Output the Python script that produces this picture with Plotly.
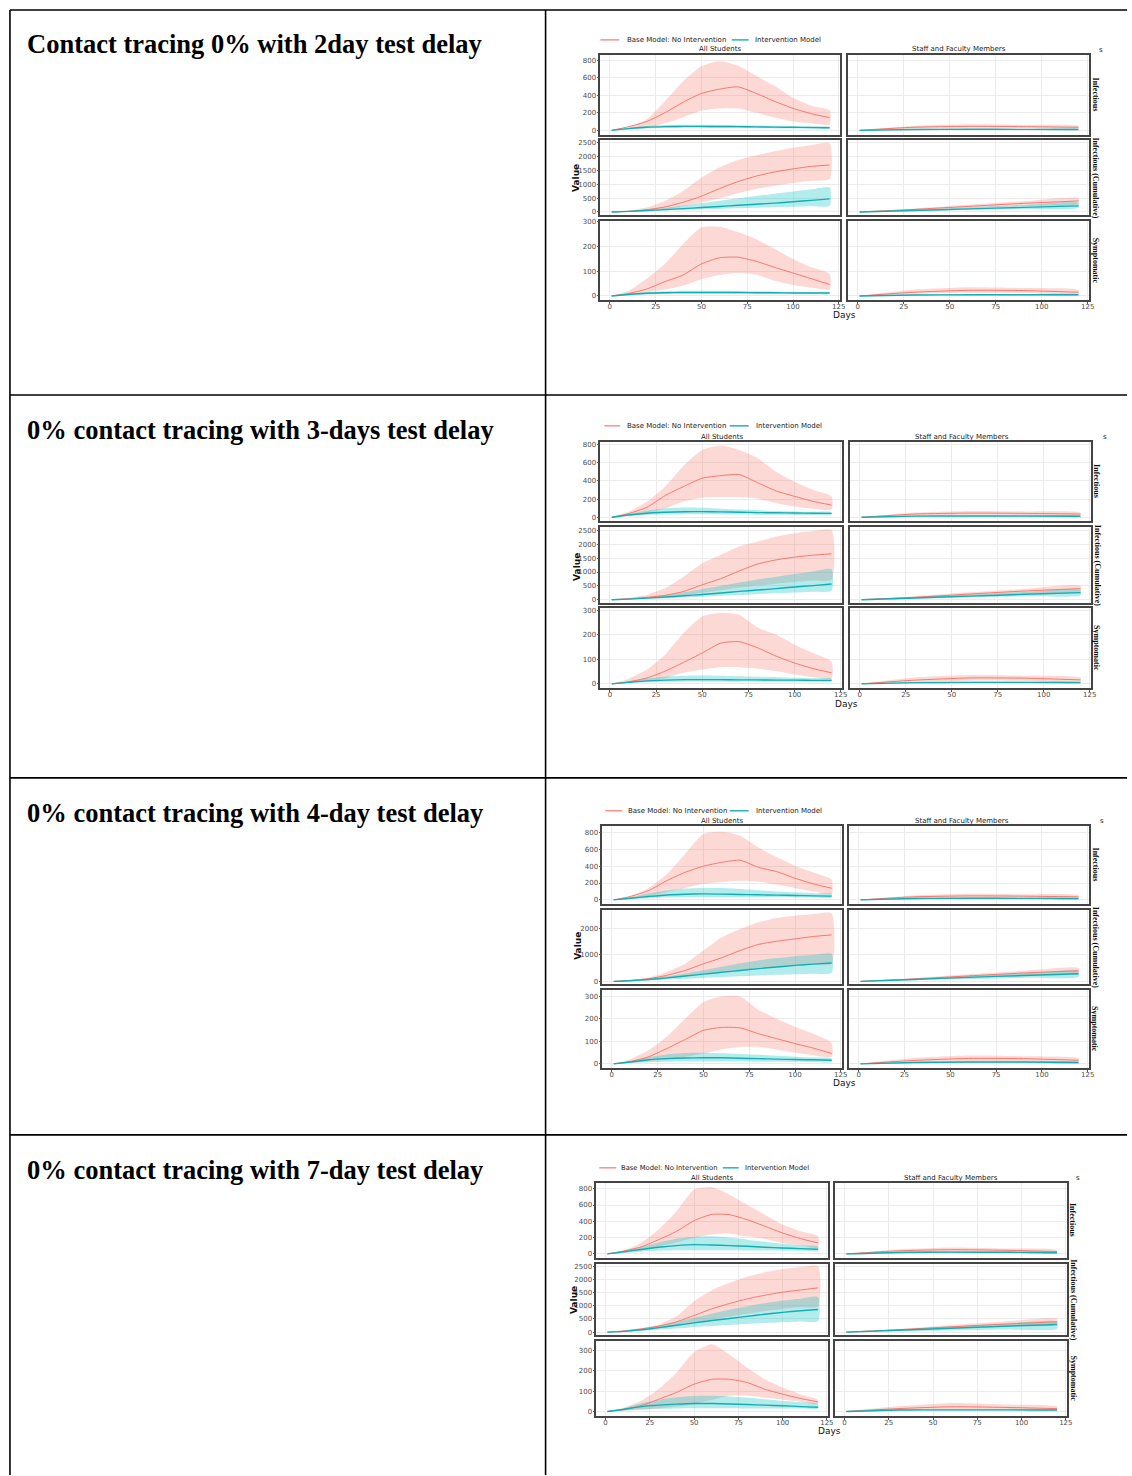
import plotly.graph_objects as go

W, H = 1132, 1476

# ---------------- data ----------------
DAYS = [1, 10, 20, 30, 40, 50, 60, 70, 80, 90, 100, 110, 120]
STAFF_DAYS = [1, 30, 60, 90, 120]
X_TICKS = [0, 25, 50, 75, 100, 125]

SCENARIO_LABELS = [
    "Contact tracing 0% with 2day test delay",
    "0% contact tracing with 3-days test delay",
    "0% contact tracing with 4-day test delay",
    "0% contact tracing with 7-day test delay",
]
SCENARIOS = ["T2", "T3", "T4", "T7"]
GROUPS = ["STU", "STF"]
GROUP_LABELS = ["All Students", "Staff and Faculty Members"]
METRICS = ["INF", "CUM", "SYM"]
METRIC_LABELS = ["Infectious", "Infectious (Cumulative)", "Symptomatic"]
MODELS = ["BASE", "INT"]
MODEL_LABELS = ["Base Model: No Intervention", "Intervention Model"]

Y_TICKS_INF = [0, 200, 400, 600, 800]
Y_TICKS_CUM = [0, 500, 1000, 1500, 2000, 2500]
Y_TICKS_CUM_ALT = [0, 1000, 2000]
Y_TICKS_SYM = [0, 100, 200, 300]

# ---- 2-day test delay: students ----
T2_STU_INF_BASE_MID = [0, 40, 100, 200, 320, 420, 470, 495, 420, 330, 250, 190, 145]
T2_STU_INF_BASE_HI = [0, 30, 125, 330, 560, 730, 790, 735, 620, 505, 370, 280, 225]
T2_STU_INF_BASE_LO = [0, 10, 30, 80, 150, 225, 250, 250, 200, 145, 100, 80, 65]
T2_STU_INF_INT_MID = [0, 20, 35, 42, 45, 45, 44, 42, 40, 37, 35, 33, 30]
T2_STU_INF_INT_HI = [0, 28, 50, 60, 64, 64, 62, 58, 54, 50, 46, 42, 40]
T2_STU_INF_INT_LO = [0, 12, 22, 26, 28, 28, 27, 26, 24, 22, 21, 20, 19]
T2_STU_CUM_BASE_MID = [0, 20, 80, 180, 350, 570, 850, 1100, 1300, 1450, 1560, 1650, 1700]
T2_STU_CUM_BASE_HI = [0, 40, 160, 400, 760, 1250, 1620, 1880, 2050, 2200, 2330, 2420, 2480]
T2_STU_CUM_BASE_LO = [0, 10, 40, 100, 200, 340, 500, 680, 830, 950, 1050, 1130, 1190]
T2_STU_CUM_INT_MID = [0, 20, 50, 85, 120, 160, 200, 240, 280, 320, 370, 420, 475]
T2_STU_CUM_INT_HI = [0, 30, 80, 150, 230, 320, 410, 500, 580, 660, 740, 820, 890]
T2_STU_CUM_INT_LO = [0, 10, 30, 50, 70, 90, 110, 130, 150, 170, 190, 210, 225]
T2_STU_SYM_BASE_MID = [0, 10, 28, 58, 85, 130, 155, 157, 140, 116, 93, 70, 47]
T2_STU_SYM_BASE_HI = [0, 20, 70, 130, 210, 278, 280, 258, 230, 190, 150, 116, 89]
T2_STU_SYM_BASE_LO = [0, 5, 15, 26, 42, 68, 85, 93, 86, 62, 45, 34, 26]
T2_STU_SYM_INT_MID = [0, 6, 11, 13, 14, 14, 14, 14, 13, 13, 12, 12, 12]
T2_STU_SYM_INT_HI = [0, 9, 16, 19, 21, 21, 21, 20, 19, 18, 17, 16, 16]
T2_STU_SYM_INT_LO = [0, 3, 6, 8, 9, 9, 9, 9, 9, 8, 8, 8, 8]
# ---- 2-day test delay: staff ----
T2_STF_INF_BASE_MID = [0, 35, 45, 42, 35]
T2_STF_INF_BASE_HI = [0, 50, 68, 62, 50]
T2_STF_INF_BASE_LO = [0, 20, 28, 26, 22]
T2_STF_INF_INT_MID = [0, 10, 12, 11, 10]
T2_STF_INF_INT_HI = [0, 15, 17, 16, 15]
T2_STF_INF_INT_LO = [0, 6, 8, 7, 6]
T2_STF_CUM_BASE_MID = [0, 90, 200, 310, 400]
T2_STF_CUM_BASE_HI = [0, 120, 260, 390, 500]
T2_STF_CUM_BASE_LO = [0, 60, 140, 220, 300]
T2_STF_CUM_INT_MID = [0, 50, 110, 165, 220]
T2_STF_CUM_INT_HI = [0, 75, 165, 250, 330]
T2_STF_CUM_INT_LO = [0, 30, 70, 110, 150]
T2_STF_SYM_BASE_MID = [0, 15, 23, 22, 15]
T2_STF_SYM_BASE_HI = [0, 25, 35, 32, 24]
T2_STF_SYM_BASE_LO = [0, 8, 13, 12, 8]
T2_STF_SYM_INT_MID = [0, 4, 5, 5, 5]
T2_STF_SYM_INT_HI = [0, 6, 7, 7, 7]
T2_STF_SYM_INT_LO = [0, 2, 3, 3, 3]

# ---- 3-day test delay: students ----
T3_STU_INF_BASE_MID = [0, 40, 110, 240, 340, 430, 458, 470, 380, 290, 230, 175, 135]
T3_STU_INF_BASE_HI = [0, 60, 170, 340, 570, 740, 790, 740, 650, 500, 390, 300, 230]
T3_STU_INF_BASE_LO = [0, 15, 45, 100, 175, 215, 222, 222, 205, 155, 120, 95, 85]
T3_STU_INF_INT_MID = [0, 25, 45, 55, 62, 63, 60, 56, 52, 50, 47, 45, 43]
T3_STU_INF_INT_HI = [0, 35, 75, 100, 108, 105, 95, 85, 78, 70, 65, 60, 58]
T3_STU_INF_INT_LO = [0, 15, 25, 30, 32, 33, 32, 30, 28, 27, 26, 25, 25]
T3_STU_CUM_BASE_MID = [0, 35, 85, 160, 300, 540, 760, 1040, 1290, 1440, 1540, 1610, 1660]
T3_STU_CUM_BASE_HI = [0, 60, 180, 420, 840, 1320, 1620, 1920, 2100, 2280, 2400, 2480, 2520]
T3_STU_CUM_BASE_LO = [0, 10, 40, 90, 160, 250, 340, 430, 510, 580, 640, 690, 720]
T3_STU_CUM_INT_MID = [0, 20, 55, 95, 140, 190, 240, 300, 350, 400, 460, 510, 565]
T3_STU_CUM_INT_HI = [0, 30, 90, 170, 270, 380, 500, 620, 730, 830, 930, 1020, 1100]
T3_STU_CUM_INT_LO = [0, 10, 30, 50, 80, 110, 140, 170, 200, 230, 260, 290, 325]
T3_STU_SYM_BASE_MID = [0, 8, 24, 52, 88, 126, 166, 172, 147, 113, 85, 62, 45]
T3_STU_SYM_BASE_HI = [0, 20, 58, 120, 208, 275, 290, 282, 230, 200, 160, 126, 90]
T3_STU_SYM_BASE_LO = [0, 4, 11, 24, 45, 58, 68, 68, 62, 52, 38, 27, 22]
T3_STU_SYM_INT_MID = [0, 6, 12, 15, 17, 17, 17, 16, 16, 15, 15, 14, 14]
T3_STU_SYM_INT_HI = [0, 10, 22, 30, 33, 34, 33, 31, 29, 27, 25, 23, 22]
T3_STU_SYM_INT_LO = [0, 3, 6, 8, 9, 9, 9, 9, 9, 8, 8, 8, 8]
# ---- 3-day test delay: staff ----
T3_STF_INF_BASE_MID = [0, 36, 46, 43, 36]
T3_STF_INF_BASE_HI = [0, 52, 70, 64, 52]
T3_STF_INF_BASE_LO = [0, 20, 28, 26, 22]
T3_STF_INF_INT_MID = [0, 13, 15, 14, 12]
T3_STF_INF_INT_HI = [0, 19, 22, 21, 18]
T3_STF_INF_INT_LO = [0, 7, 9, 8, 7]
T3_STF_CUM_BASE_MID = [0, 90, 205, 315, 400]
T3_STF_CUM_BASE_HI = [0, 120, 265, 395, 505]
T3_STF_CUM_BASE_LO = [0, 60, 140, 225, 300]
T3_STF_CUM_INT_MID = [0, 60, 130, 195, 255]
T3_STF_CUM_INT_HI = [0, 85, 185, 280, 360]
T3_STF_CUM_INT_LO = [0, 35, 80, 120, 160]
T3_STF_SYM_BASE_MID = [0, 15, 24, 23, 16]
T3_STF_SYM_BASE_HI = [0, 26, 36, 33, 25]
T3_STF_SYM_BASE_LO = [0, 8, 13, 12, 8]
T3_STF_SYM_INT_MID = [0, 5, 6, 6, 5]
T3_STF_SYM_INT_HI = [0, 7, 9, 9, 8]
T3_STF_SYM_INT_LO = [0, 2, 3, 3, 3]

# ---- 4-day test delay: students ----
T4_STU_INF_BASE_MID = [0, 40, 110, 228, 327, 400, 445, 470, 386, 335, 256, 190, 138]
T4_STU_INF_BASE_HI = [0, 35, 140, 305, 545, 780, 810, 760, 620, 505, 405, 325, 240]
T4_STU_INF_BASE_LO = [0, 12, 43, 90, 140, 190, 213, 228, 216, 181, 138, 102, 71]
T4_STU_INF_INT_MID = [0, 20, 40, 58, 67, 71, 68, 64, 60, 56, 52, 48, 45]
T4_STU_INF_INT_HI = [0, 30, 75, 110, 135, 142, 140, 130, 115, 100, 90, 80, 75]
T4_STU_INF_INT_LO = [0, 10, 20, 27, 31, 33, 33, 32, 31, 30, 29, 28, 27]
T4_STU_CUM_BASE_MID = [0, 37, 100, 225, 410, 660, 890, 1160, 1390, 1510, 1600, 1690, 1750]
T4_STU_CUM_BASE_HI = [0, 40, 140, 350, 660, 1160, 1660, 1975, 2225, 2390, 2475, 2530, 2560]
T4_STU_CUM_BASE_LO = [0, 15, 50, 110, 190, 280, 360, 440, 510, 570, 610, 645, 665]
T4_STU_CUM_INT_MID = [0, 25, 70, 130, 200, 270, 340, 410, 480, 540, 600, 650, 690]
T4_STU_CUM_INT_HI = [0, 35, 100, 190, 300, 420, 550, 680, 790, 880, 950, 1000, 1040]
T4_STU_CUM_INT_LO = [0, 12, 35, 60, 95, 130, 160, 190, 220, 245, 270, 290, 310]
T4_STU_SYM_BASE_MID = [0, 10, 31, 68, 108, 149, 162, 160, 134, 112, 90, 70, 46]
T4_STU_SYM_BASE_HI = [0, 20, 60, 120, 200, 275, 300, 300, 240, 200, 165, 134, 93]
T4_STU_SYM_BASE_LO = [0, 4, 12, 19, 31, 46, 64, 75, 75, 64, 50, 38, 31]
T4_STU_SYM_INT_MID = [0, 8, 18, 23, 26, 27, 27, 25, 23, 21, 19, 18, 16]
T4_STU_SYM_INT_HI = [0, 12, 30, 42, 48, 49, 47, 44, 40, 36, 32, 28, 25]
T4_STU_SYM_INT_LO = [0, 4, 7, 9, 10, 10, 10, 10, 9, 9, 9, 8, 8]
# ---- 4-day test delay: staff ----
T4_STF_INF_BASE_MID = [0, 36, 47, 44, 36]
T4_STF_INF_BASE_HI = [0, 52, 72, 66, 54]
T4_STF_INF_BASE_LO = [0, 20, 28, 26, 22]
T4_STF_INF_INT_MID = [0, 16, 19, 18, 15]
T4_STF_INF_INT_HI = [0, 24, 28, 26, 22]
T4_STF_INF_INT_LO = [0, 8, 10, 9, 8]
T4_STF_CUM_BASE_MID = [0, 90, 205, 315, 400]
T4_STF_CUM_BASE_HI = [0, 120, 265, 395, 505]
T4_STF_CUM_BASE_LO = [0, 60, 140, 225, 300]
T4_STF_CUM_INT_MID = [0, 70, 150, 220, 285]
T4_STF_CUM_INT_HI = [0, 95, 205, 305, 390]
T4_STF_CUM_INT_LO = [0, 40, 85, 130, 170]
T4_STF_SYM_BASE_MID = [0, 15, 24, 23, 16]
T4_STF_SYM_BASE_HI = [0, 26, 37, 34, 25]
T4_STF_SYM_BASE_LO = [0, 8, 13, 12, 8]
T4_STF_SYM_INT_MID = [0, 6, 8, 8, 6]
T4_STF_SYM_INT_HI = [0, 9, 11, 11, 9]
T4_STF_SYM_INT_LO = [0, 3, 4, 4, 3]

# ---- 7-day test delay: students ----
T7_STU_INF_BASE_MID = [0, 35, 86, 175, 277, 408, 485, 481, 420, 339, 257, 188, 135]
T7_STU_INF_BASE_HI = [0, 40, 135, 300, 520, 790, 820, 726, 604, 481, 360, 277, 216]
T7_STU_INF_BASE_LO = [0, 12, 45, 86, 143, 196, 237, 249, 216, 184, 135, 102, 73]
T7_STU_INF_INT_MID = [0, 25, 55, 82, 102, 114, 110, 102, 94, 82, 73, 65, 57]
T7_STU_INF_INT_HI = [0, 35, 85, 140, 185, 210, 216, 200, 175, 150, 125, 105, 90]
T7_STU_INF_INT_LO = [0, 12, 28, 38, 44, 46, 46, 45, 43, 41, 40, 38, 37]
T7_STU_CUM_BASE_MID = [0, 45, 126, 227, 390, 630, 885, 1086, 1263, 1400, 1515, 1600, 1680]
T7_STU_CUM_BASE_HI = [0, 50, 130, 290, 600, 1175, 1590, 1870, 2100, 2270, 2400, 2460, 2500]
T7_STU_CUM_BASE_LO = [0, 20, 60, 130, 230, 350, 470, 590, 700, 800, 880, 940, 985]
T7_STU_CUM_INT_MID = [0, 30, 90, 170, 260, 350, 440, 520, 600, 680, 750, 810, 860]
T7_STU_CUM_INT_HI = [0, 40, 120, 240, 390, 550, 700, 850, 980, 1100, 1200, 1270, 1330]
T7_STU_CUM_INT_LO = [0, 15, 50, 95, 140, 190, 230, 270, 310, 345, 375, 400, 420]
T7_STU_SYM_BASE_MID = [0, 10, 28, 60, 93, 134, 158, 158, 142, 109, 85, 64, 47]
T7_STU_SYM_BASE_HI = [0, 18, 52, 110, 190, 290, 330, 280, 215, 158, 117, 85, 57]
T7_STU_SYM_BASE_LO = [0, 3, 8, 15, 24, 36, 57, 77, 77, 68, 57, 47, 36]
T7_STU_SYM_INT_MID = [0, 10, 24, 31, 36, 39, 39, 37, 34, 31, 28, 24, 21]
T7_STU_SYM_INT_HI = [0, 15, 40, 58, 70, 76, 77, 74, 68, 60, 52, 45, 38]
T7_STU_SYM_INT_LO = [0, 5, 10, 13, 15, 16, 16, 16, 15, 15, 14, 14, 13]
# ---- 7-day test delay: staff ----
T7_STF_INF_BASE_MID = [0, 38, 52, 45, 30]
T7_STF_INF_BASE_HI = [0, 55, 80, 68, 48]
T7_STF_INF_BASE_LO = [0, 20, 28, 25, 18]
T7_STF_INF_INT_MID = [0, 18, 22, 20, 15]
T7_STF_INF_INT_HI = [0, 28, 34, 30, 24]
T7_STF_INF_INT_LO = [0, 9, 11, 10, 8]
T7_STF_CUM_BASE_MID = [0, 90, 200, 305, 390]
T7_STF_CUM_BASE_HI = [0, 120, 265, 400, 510]
T7_STF_CUM_BASE_LO = [0, 60, 140, 220, 290]
T7_STF_CUM_INT_MID = [0, 70, 150, 225, 290]
T7_STF_CUM_INT_HI = [0, 95, 210, 315, 400]
T7_STF_CUM_INT_LO = [0, 35, 65, 100, 130]
T7_STF_SYM_BASE_MID = [0, 14, 23, 20, 14]
T7_STF_SYM_BASE_HI = [0, 25, 41, 34, 24]
T7_STF_SYM_BASE_LO = [0, 7, 11, 10, 7]
T7_STF_SYM_INT_MID = [0, 7, 8, 8, 7]
T7_STF_SYM_INT_HI = [0, 10, 12, 12, 10]
T7_STF_SYM_INT_LO = [0, 3, 4, 4, 3]

# ---------------- layout geometry (pixels) ----------------
ROW_GEOM = [
    dict(xl=(603, 844), xr=(852, 1094), ys=[(52, 132), (137, 213), (219, 298)],
         leg_y=37, leg=(603, 622, 628, 735, 752, 756), title_y=46, titles_x=(723, 963),
         days=(848, 313), value=(578, 175), strip_x=1100, s=(1106, 47), label_y=41,
         yr=[(-49, 860), (-126, 2620), (-17, 302)], cumticks=Y_TICKS_CUM),
    dict(xl=(603, 846), xr=(854, 1096), ys=[(440, 519), (525, 602), (607, 687)],
         leg_y=424, leg=(607, 623, 628, 733, 752, 757), title_y=435, titles_x=(725, 966),
         days=(850, 703), value=(580, 565), strip_x=1102, s=(1110, 435), label_y=428,
         yr=[(-36, 830), (-133, 2644), (-17.6, 308)], cumticks=Y_TICKS_CUM),
    dict(xl=(605, 846), xr=(853, 1094), ys=[(825, 903), (909, 984), (990, 1068)],
         leg_y=810, leg=(608, 625, 629, 733, 752, 757), title_y=820, titles_x=(725, 966),
         days=(848, 1083), value=(581, 945), strip_x=1100, s=(1107, 820), label_y=812,
         yr=[(-43.6, 879), (-113, 2706), (-19, 327)], cumticks=Y_TICKS_CUM_ALT),
    dict(xl=(599, 832), xr=(839, 1072), ys=[(1183, 1258), (1264, 1336), (1342, 1417)],
         leg_y=1168, leg=(602, 619, 622, 726, 742, 746), title_y=1178, titles_x=(715, 955),
         days=(833, 1432), value=(577, 1300), strip_x=1078, s=(1083, 1178), label_y=1170,
         yr=[(-45, 873), (-123, 2602), (-23, 344)], cumticks=Y_TICKS_CUM),
]
TABLE_H_LINES = [7, 393, 777, 1135]
TABLE_V_LINES = [10, 548]
X_RANGE = (-5.2, 125.8)

RED = "#F8766D"
RED_FILL = "rgba(248,118,109,0.28)"
CYAN = "#14AEB2"
CYAN_FILL = "rgba(0,191,196,0.30)"
SANS = "DejaVu Sans"
SERIF = "Liberation Serif"
SMALL = 7


def px(x):
    return x / W


def py(y):
    return 1 - y / H


fig = go.Figure()
annotations = []
shapes = []
layout_axes = {}

for r, sc in enumerate(SCENARIOS):
    g_ = ROW_GEOM[r]
    for m, met in enumerate(METRICS):
        for gi, grp in enumerate(GROUPS):
            idx = r * 6 + m * 2 + gi + 1
            xs = "x" if idx == 1 else f"x{idx}"
            ys_ = "y" if idx == 1 else f"y{idx}"
            xr = g_["xl"] if gi == 0 else g_["xr"]
            yt, yb = g_["ys"][m]
            days = DAYS if grp == "STU" else STAFF_DAYS
            # ribbons
            for mdl, fill in (("BASE", RED_FILL), ("INT", CYAN_FILL)):
                lo = globals()[f"{sc}_{grp}_{met}_{mdl}_LO"]
                hi = globals()[f"{sc}_{grp}_{met}_{mdl}_HI"]
                fig.add_trace(go.Scatter(
                    x=days + days[::-1], y=hi + lo[::-1], fill="toself",
                    fillcolor=fill, line=dict(width=0, shape="spline", smoothing=0.6),
                    mode="lines", hoverinfo="skip", xaxis=xs, yaxis=ys_,
                    showlegend=False))
            for mdl, col, wd in (("BASE", RED, 1.0), ("INT", CYAN, 1.4)):
                mid = globals()[f"{sc}_{grp}_{met}_{mdl}_MID"]
                fig.add_trace(go.Scatter(
                    x=days, y=mid, mode="lines",
                    line=dict(color=col, width=wd, shape="spline", smoothing=0.6),
                    xaxis=xs, yaxis=ys_, showlegend=False,
                    name=MODEL_LABELS[MODELS.index(mdl)]))
            yticks = [Y_TICKS_INF, g_["cumticks"], Y_TICKS_SYM][m]
            xa = dict(domain=[px(xr[0]), px(xr[1])], range=list(X_RANGE),
                      anchor=ys_, tickvals=X_TICKS, showticklabels=(m == 2),
                      ticks="outside" if m == 2 else "", ticklen=2, tickcolor="#555",
                      ticklabelstandoff=-3,
                      showgrid=True, gridcolor="#EBEBEB", gridwidth=0.8, zeroline=False,
                      showline=True, mirror=True, linecolor="#444", linewidth=1.6,
                      tickfont=dict(family=SANS, size=SMALL, color="#4D4D4D"))
            ya = dict(domain=[py(yb), py(yt)], range=list(g_["yr"][m]),
                      anchor=xs, tickvals=yticks, showticklabels=(gi == 0),
                      ticks="outside" if gi == 0 else "", ticklen=2, tickcolor="#555",
                      ticklabelstandoff=-1,
                      showgrid=True, gridcolor="#EBEBEB", gridwidth=0.8, zeroline=False,
                      showline=True, mirror=True, linecolor="#444", linewidth=1.6,
                      tickfont=dict(family=SANS, size=SMALL, color="#4D4D4D"))
            layout_axes["xaxis" if idx == 1 else f"xaxis{idx}"] = xa
            layout_axes["yaxis" if idx == 1 else f"yaxis{idx}"] = ya
            if gi == 1:
                annotations.append(dict(
                    x=px(g_["strip_x"]), y=py((yt + yb) / 2), xref="paper", yref="paper",
                    text=f"<b>{METRIC_LABELS[m]}</b>", textangle=90, showarrow=False,
                    font=dict(family=SERIF, size=8, color="#111"),
                    xanchor="center", yanchor="middle"))

    # scenario label (left column)
    annotations.append(dict(
        x=px(25), y=py(g_["label_y"]), xref="paper", yref="paper",
        text=f"<b>{SCENARIO_LABELS[r]}</b>", showarrow=False, xanchor="left",
        yanchor="middle", font=dict(family=SERIF, size=26.5, color="black")))
    # facet titles
    for gi in range(2):
        annotations.append(dict(
            x=px(g_["titles_x"][gi]), y=py(g_["title_y"]), xref="paper", yref="paper",
            text=GROUP_LABELS[gi], showarrow=False, xanchor="center", yanchor="middle",
            font=dict(family=SANS, size=SMALL, color="#222")))
    annotations.append(dict(
        x=px(g_["s"][0]), y=py(g_["s"][1]), xref="paper", yref="paper", text="s",
        showarrow=False, xanchor="center", yanchor="middle",
        font=dict(family=SANS, size=SMALL, color="#222")))
    # legend (manual)
    l = g_["leg"]
    shapes.append(dict(type="line", xref="paper", yref="paper", x0=px(l[0]), x1=px(l[1]),
                       y0=py(g_["leg_y"]), y1=py(g_["leg_y"]), line=dict(color=RED, width=1.2)))
    shapes.append(dict(type="line", xref="paper", yref="paper", x0=px(l[3]), x1=px(l[4]),
                       y0=py(g_["leg_y"]), y1=py(g_["leg_y"]), line=dict(color=CYAN, width=1.4)))
    annotations.append(dict(
        x=px(l[2]), y=py(g_["leg_y"]), xref="paper", yref="paper", text=MODEL_LABELS[0],
        showarrow=False, xanchor="left", yanchor="middle",
        font=dict(family=SANS, size=SMALL if r < 3 else 6.8, color="#222")))
    annotations.append(dict(
        x=px(l[5]), y=py(g_["leg_y"]), xref="paper", yref="paper", text=MODEL_LABELS[1],
        showarrow=False, xanchor="left", yanchor="middle",
        font=dict(family=SANS, size=SMALL if r < 3 else 6.8, color="#222")))
    # axis titles
    annotations.append(dict(
        x=px(g_["days"][0]), y=py(g_["days"][1]), xref="paper", yref="paper", text="Days",
        showarrow=False, xanchor="center", yanchor="middle",
        font=dict(family=SANS, size=9, color="#111")))
    annotations.append(dict(
        x=px(g_["value"][0]), y=py(g_["value"][1]), xref="paper", yref="paper",
        text="<b>Value</b>", textangle=-90, showarrow=False, xanchor="center",
        yanchor="middle", font=dict(family=SANS, size=9, color="#111")))

# table lines
for yy in TABLE_H_LINES:
    shapes.append(dict(type="line", xref="paper", yref="paper", x0=px(10), x1=1.0,
                       y0=py(yy), y1=py(yy), line=dict(color="black", width=1.6)))
for xx in TABLE_V_LINES:
    shapes.append(dict(type="line", xref="paper", yref="paper", x0=px(xx), x1=px(xx),
                       y0=py(7), y1=0.0, line=dict(color="black", width=1.6)))

fig.update_layout(
    width=W, height=H, margin=dict(l=0, r=0, t=0, b=0),
    paper_bgcolor="white", plot_bgcolor="white", showlegend=False,
    annotations=annotations, shapes=shapes, **layout_axes)

fig.write_html("out.html", config={"displayModeBar": False},
               post_script="document.body.style.margin='0';document.body.style.padding='0';")
